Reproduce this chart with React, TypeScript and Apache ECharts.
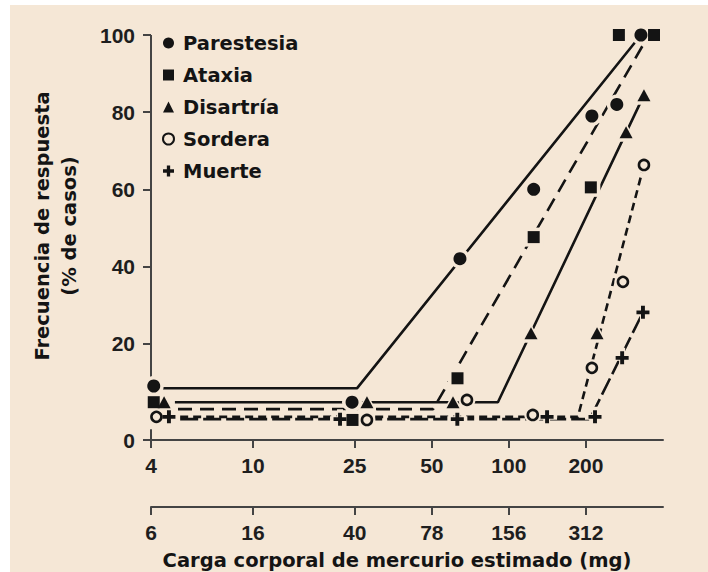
import React, { useEffect, useRef } from "react";
import * as echarts from "echarts";

// ---------- data ----------
const seriesNames = ["Parestesia", "Ataxia", "Disartría", "Sordera", "Muerte"];

// observed points (x = body burden in mg, y = % of cases)
const parestesiaX = [4.1, 24.4, 64.4, 125, 211, 264, 328];
const parestesiaY = [9, 4.8, 42, 60, 79, 82, 100];
const ataxiaX = [4.1, 24.5, 63, 125, 209, 269, 369];
const ataxiaY = [4.8, 0.2, 11, 47.6, 60.5, 100, 100];
const disartriaX = [4.5, 27.9, 60.5, 122, 221, 287, 337];
const disartriaY = [4.8, 4.8, 4.8, 22.7, 22.7, 74.8, 84.4];
const sorderaX = [4.2, 27.9, 68.6, 124, 211, 279, 337];
const sorderaY = [1, 0.2, 5.4, 1.5, 13.7, 36, 66.3];
const muerteX = [4.7, 21.9, 62.9, 141, 217, 277, 334];
const muerteY = [1, 0.4, 0.4, 1, 1, 16.3, 28.1];

// fitted hockey-stick lines
const parestesiaFitX = [4.45, 25.5, 328];
const parestesiaFitY = [8.4, 8.4, 100];
const ataxiaFitX = [5.1, 50.6, 345];
const ataxiaFitY = [3, 3, 99];
const disartriaFitX = [4.96, 90.6, 337];
const disartriaFitY = [4.8, 4.8, 84.4];
const sorderaFitX = [5.2, 186, 337];
const sorderaFitY = [1, 1, 66.3];
const muerteFitX = [5.2, 207, 334];
const muerteFitY = [0.4, 0.4, 28.1];

// axes
const xRange = [4, 400];
const xTickValues = [4, 10, 25, 50, 100, 200];
const xTickLabels = ["4", "10", "25", "50", "100", "200"];
const x2TickLabels = ["6", "16", "40", "78", "156", "312"];
const yRange = [-5, 100];
const yTickValues = [-5, 20, 40, 60, 80, 100];
const yTickLabels = ["0", "20", "40", "60", "80", "100"];
const yAxisSegments = [
  [-5, -2.2],
  [11, 100],
];
const xTitle = "Carga corporal de mercurio estimado (mg)";
const yTitle = "Frecuencia de respuesta\n(% de casos)";

// ---------- styles ----------
const CREAM = "#f5e7d6";
const INK = "#141414";
const AXIS = "#444444";
const PLUS = "path://M3.5,0H6.5V3.5H10V6.5H6.5V10H3.5V6.5H0V3.5H3.5Z";

const zip = (xs: number[], ys: number[]) => xs.map((x, i) => [x, ys[i]]);

const points = [
  zip(parestesiaX, parestesiaY),
  zip(ataxiaX, ataxiaY),
  zip(disartriaX, disartriaY),
  zip(sorderaX, sorderaY),
  zip(muerteX, muerteY),
];
const fits = [
  zip(parestesiaFitX, parestesiaFitY),
  zip(ataxiaFitX, ataxiaFitY),
  zip(disartriaFitX, disartriaFitY),
  zip(sorderaFitX, sorderaFitY),
  zip(muerteFitX, muerteFitY),
];

const symbols = ["circle", "rect", "triangle", "circle", PLUS];
const symbolSizes: any[] = [13, 12, [13, 12], 10, 13];
const lineTypes: any[] = ["solid", [14, 8], "solid", [8, 5], [18, 5]];

const nearestIdx = (vals: number[], v: number, log: boolean) => {
  let best = 0;
  let bd = Infinity;
  vals.forEach((t, i) => {
    const d = log ? Math.abs(Math.log(t) - Math.log(v)) : Math.abs(t - v);
    if (d < bd) {
      bd = d;
      best = i;
    }
  });
  return best;
};

const tickFont = {
  fontFamily: "Liberation Sans",
  fontWeight: "bold" as const,
  fontSize: 21,
  color: "#1e1e1e",
};

export default function App() {
  const ref = useRef<HTMLDivElement>(null);

  useEffect(() => {
    document.body.style.margin = "0";
    if (!ref.current) return;
    const chart = echarts.init(ref.current, undefined, { renderer: "svg" });

    const xAxisBase = (labels: string[], offset: number) => ({
      type: "log",
      logBase: 10,
      min: xRange[0],
      max: xRange[1],
      gridIndex: 0,
      position: "bottom",
      offset,
      axisLine: { show: true, onZero: false, lineStyle: { color: AXIS, width: 2 } },
      axisTick: {
        show: true,
        customValues: xTickValues,
        length: 8,
        lineStyle: { color: AXIS, width: 2 },
      },
      axisLabel: {
        show: true,
        customValues: xTickValues,
        margin: 15,
        ...tickFont,
        formatter: (v: number) => labels[nearestIdx(xTickValues, v, true)],
      },
      splitLine: { show: false },
      minorTick: { show: false },
      minorSplitLine: { show: false },
    });

    const series: any[] = [
      {
        type: "lines",
        coordinateSystem: "cartesian2d",
        xAxisIndex: 0,
        yAxisIndex: 0,
        polyline: false,
        silent: true,
        z: 1,
        lineStyle: { color: AXIS, width: 2, opacity: 1, curveness: 0 },
        data: yAxisSegments.map(([a, b]) => ({
          coords: [
            [xRange[0], a],
            [xRange[0], b],
          ],
        })),
      },
    ];

    seriesNames.forEach((name, i) => {
      series.push({
        name: "fit-" + i,
        type: "line",
        data: fits[i],
        showSymbol: false,
        symbol: "none",
        silent: true,
        z: 2,
        lineStyle: { color: INK, width: 2.6, type: lineTypes[i], cap: "butt" },
      });
    });
    seriesNames.forEach((name, i) => {
      const s = symbolSizes[i];
      const haloSize = Array.isArray(s) ? [s[0] + 7, s[1] + 7] : s + 7;
      series.push({
        name: "halo-" + i,
        type: "scatter",
        data: points[i],
        symbol: symbols[i],
        symbolSize: haloSize,
        silent: true,
        z: 3,
        itemStyle: { color: CREAM, opacity: 1 },
      });
    });
    seriesNames.forEach((name, i) => {
      const isOpen = i === 3;
      series.push({
        name,
        type: "scatter",
        data: points[i],
        symbol: symbols[i],
        symbolSize: symbolSizes[i],
        z: 4,
        itemStyle: isOpen
          ? { color: CREAM, borderColor: INK, borderWidth: 2.6, opacity: 1 }
          : { color: INK, opacity: 1 },
      });
    });

    const option: any = {
      animation: false,
      backgroundColor: "transparent",
      grid: {
        left: 151,
        right: 45,
        top: 35,
        bottom: 132,
        containLabel: false,
        outerBoundsMode: "none",
      },
      legend: {
        orient: "vertical",
        left: 157,
        top: 27,
        itemGap: 10,
        itemWidth: 11,
        itemHeight: 11,
        selectedMode: false,
        textStyle: {
          fontFamily: "DejaVu Sans",
          fontWeight: "bold",
          fontSize: 19.5,
          color: INK,
          lineHeight: 22,
          padding: [0, 0, 0, 4],
        },
        data: seriesNames.map((name, i) => ({
          name,
          icon: i === 3 ? "circle" : symbols[i],
        })),
      },
      xAxis: [xAxisBase(xTickLabels, 0), xAxisBase(x2TickLabels, 67)],
      yAxis: {
        type: "value",
        min: yRange[0],
        max: yRange[1],
        axisLine: { show: false },
        axisTick: {
          show: true,
          customValues: yTickValues,
          length: 8,
          lineStyle: { color: AXIS, width: 2 },
        },
        axisLabel: {
          show: true,
          customValues: yTickValues,
          margin: 16,
          ...tickFont,
          formatter: (v: number) => yTickLabels[nearestIdx(yTickValues, v, false)],
        },
        splitLine: { show: false },
      },
      graphic: [
        {
          type: "text",
          x: 397,
          y: 560,
          style: {
            text: xTitle,
            font: 'bold 19.5px "DejaVu Sans"',
            fill: INK,
            align: "center",
            verticalAlign: "middle",
          },
        },
        {
          type: "text",
          x: 56,
          y: 226,
          rotation: Math.PI / 2,
          style: {
            text: yTitle,
            font: 'bold 19.5px "DejaVu Sans"',
            fill: INK,
            align: "center",
            verticalAlign: "middle",
            lineHeight: 27,
          },
        },
      ],
      series,
    };

    chart.setOption(option);
    return () => chart.dispose();
  }, []);

  return (
    <div style={{ position: "relative", width: 708, height: 572, background: "#ffffff", overflow: "hidden" }}>
      <div style={{ position: "absolute", left: 10, top: 5, right: 0, bottom: 0, background: CREAM }} />
      <div ref={ref} style={{ position: "absolute", left: 0, top: 0, width: 708, height: 572 }} />
    </div>
  );
}
